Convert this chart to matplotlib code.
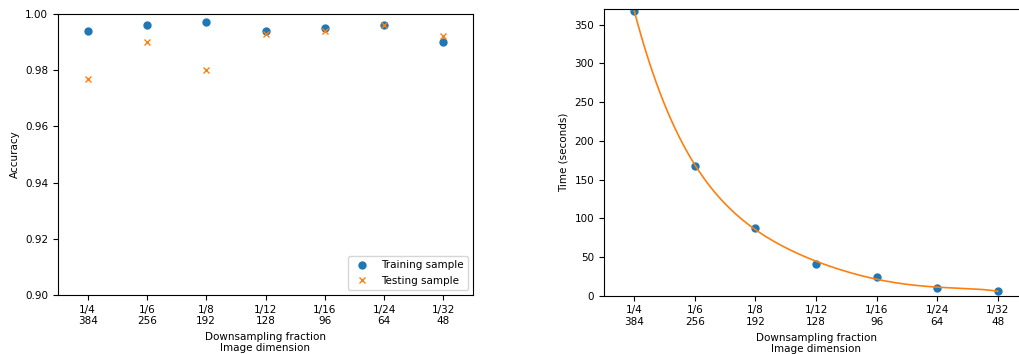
import numpy as np
import matplotlib
matplotlib.use("Agg")
import matplotlib.pyplot as plt

plt.rcParams['font.size'] = 7.5

fractions = ['1/4', '1/6', '1/8', '1/12', '1/16', '1/24', '1/32']
dims = [384, 256, 192, 128, 96, 64, 48]
tick_labels = [f"{f}\n{d}" for f, d in zip(fractions, dims)]

train_acc = [0.994, 0.996, 0.997, 0.994, 0.995, 0.996, 0.990]
test_acc = [0.977, 0.990, 0.980, 0.993, 0.994, 0.996, 0.992]
times = [368, 168, 88, 41, 24, 10, 6]

x = np.arange(len(fractions))

fig = plt.figure(figsize=(10.19, 3.54), dpi=100)

# left panel: accuracy
ax1 = fig.add_axes([58/1019, 1 - 295/354, 415/1019, 281/354])
ax1.plot(x, train_acc, 'o', markersize=5, label='Training sample')
ax1.plot(x, test_acc, 'x', markersize=5, label='Testing sample')
ax1.set_ylim(0.90, 1.00)
ax1.set_xlim(-0.5, 6.5)
ax1.set_xticks(x)
ax1.set_xticklabels(tick_labels)
ax1.set_ylabel('Accuracy')
ax1.set_xlabel('Downsampling fraction\nImage dimension')
ax1.legend(loc='lower right')

# right panel: time, with a polynomial trend
ax2 = fig.add_axes([604/1019, 1 - 295.7/354, 424/1019, 286.4/354])
coef = np.polyfit(x, times, 5)
xs = np.linspace(0, 6, 200)
ax2.plot(x, times, 'o', markersize=5)
ax2.plot(xs, np.polyval(coef, xs), color='C1', linewidth=1.2)
ax2.set_ylim(0, 370)
ax2.set_xlim(-0.5, 6.5)
ax2.set_xticks(x)
ax2.set_xticklabels(tick_labels)
ax2.set_ylabel('Time (seconds)')
ax2.set_xlabel('Downsampling fraction\nImage dimension')

fig.savefig('out.png', dpi=100)
